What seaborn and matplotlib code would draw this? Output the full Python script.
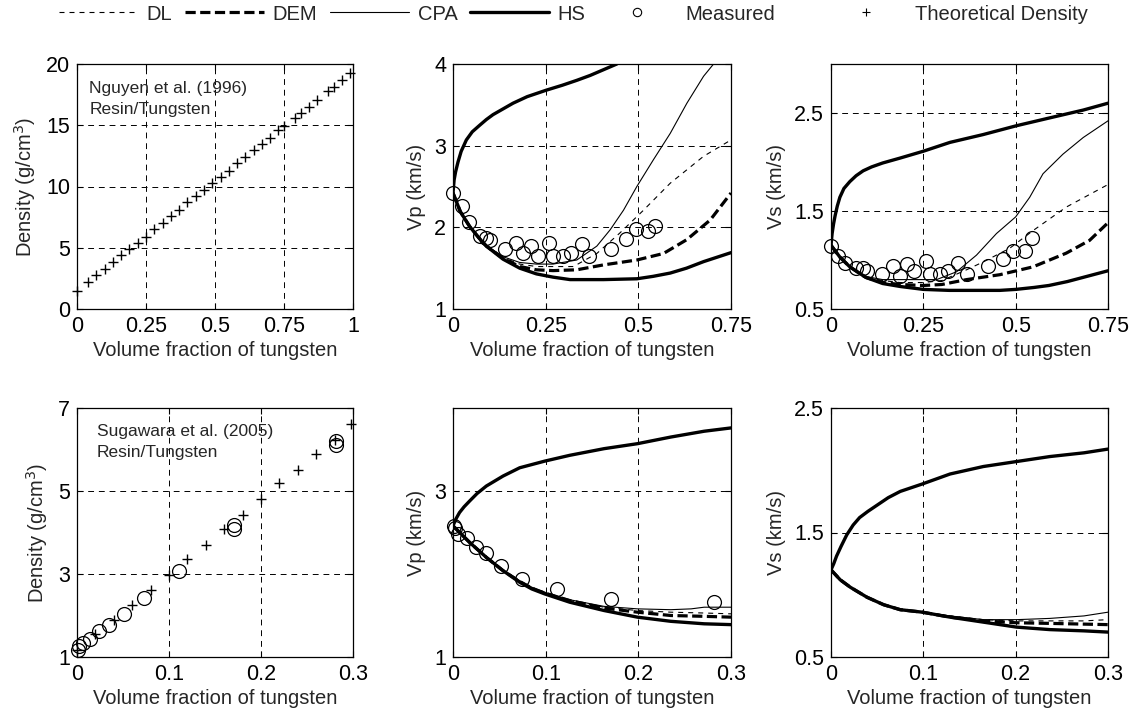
import matplotlib
matplotlib.use("Agg")
import matplotlib.pyplot as plt
import seaborn as sns
from matplotlib.lines import Line2D

sns.set_style("ticks")
plt.rcParams['font.family'] = ['Liberation Sans', 'DejaVu Sans']

# ---------------- data ----------------
# Top-left: Nguyen et al. (1996) theoretical density
td1_x = [0.00, 0.04, 0.07, 0.10, 0.13, 0.16, 0.19, 0.22, 0.25, 0.28, 0.31, 0.34, 0.37, 0.40, 0.43,
         0.46, 0.49, 0.52, 0.55, 0.58, 0.61, 0.64, 0.67, 0.70, 0.73, 0.75, 0.79, 0.81, 0.84, 0.87,
         0.91, 0.93, 0.96, 0.99]
td1_y = [1.5, 2.2, 2.8, 3.3, 3.8, 4.4, 4.9, 5.4, 5.9, 6.5, 7.0, 7.6, 8.1, 8.7, 9.2,
         9.7, 10.3, 10.8, 11.3, 11.9, 12.4, 13.0, 13.5, 14.0, 14.6, 14.9, 15.6, 16.0, 16.5, 17.1,
         17.8, 18.1, 18.7, 19.3]

# Top-middle: Vp (Nguyen)
vp1_hs_up_x = [0.0, 0.003, 0.007, 0.0135, 0.022, 0.036, 0.052, 0.072, 0.09, 0.108, 0.135, 0.162,
               0.2, 0.252, 0.295, 0.334, 0.37, 0.406, 0.442]
vp1_hs_up_y = [2.42, 2.58, 2.68, 2.80, 2.93, 3.07, 3.17, 3.25, 3.32, 3.38, 3.45, 3.52,
               3.60, 3.68, 3.74, 3.80, 3.86, 3.93, 4.00]
vp1_hs_lo_x = [0.0, 0.02, 0.045, 0.07, 0.09, 0.135, 0.18, 0.225, 0.27, 0.316, 0.406, 0.496, 0.54,
               0.586, 0.63, 0.676, 0.75]
vp1_hs_lo_y = [2.42, 2.19, 2.01, 1.87, 1.77, 1.61, 1.50, 1.43, 1.39, 1.36, 1.36, 1.37, 1.40,
               1.44, 1.50, 1.58, 1.69]
vp1_dem_x = [0.0, 0.02, 0.045, 0.07, 0.09, 0.135, 0.18, 0.225, 0.27, 0.334, 0.406, 0.496, 0.568,
             0.631, 0.694, 0.75]
vp1_dem_y = [2.42, 2.19, 2.01, 1.87, 1.77, 1.62, 1.52, 1.48, 1.47, 1.48, 1.54, 1.60, 1.68,
             1.85, 2.09, 2.42]
vp1_cpa_x = [0.0, 0.02, 0.045, 0.07, 0.09, 0.135, 0.18, 0.225, 0.27, 0.334, 0.388, 0.424, 0.46,
             0.496, 0.541, 0.586, 0.631, 0.676, 0.703]
vp1_cpa_y = [2.42, 2.19, 2.01, 1.88, 1.78, 1.64, 1.57, 1.55, 1.55, 1.60, 1.77, 1.97, 2.21,
             2.50, 2.83, 3.15, 3.52, 3.85, 4.00]
vp1_dl_x = [0.0, 0.02, 0.045, 0.07, 0.09, 0.135, 0.18, 0.225, 0.27, 0.325, 0.388, 0.45, 0.514,
            0.586, 0.676, 0.75]
vp1_dl_y = [2.42, 2.19, 2.01, 1.88, 1.78, 1.63, 1.55, 1.52, 1.52, 1.52, 1.68, 1.93, 2.21,
            2.54, 2.87, 3.07]
vp1_meas_x = [0.0, 0.024, 0.042, 0.072, 0.09, 0.10, 0.14, 0.169, 0.19, 0.21, 0.228, 0.259, 0.269,
              0.298, 0.318, 0.347, 0.367, 0.427, 0.466, 0.495, 0.525, 0.546]
vp1_meas_y = [2.42, 2.26, 2.06, 1.90, 1.87, 1.84, 1.73, 1.81, 1.68, 1.77, 1.65, 1.81, 1.65,
              1.65, 1.68, 1.79, 1.65, 1.74, 1.86, 1.98, 1.95, 2.02]

# Top-right: Vs (Nguyen)
vs1_hs_up_x = [0.0, 0.003, 0.007, 0.011, 0.017, 0.024, 0.035, 0.051, 0.068, 0.087, 0.11, 0.14,
               0.187, 0.25, 0.322, 0.412, 0.502, 0.592, 0.683, 0.75]
vs1_hs_up_y = [1.15, 1.27, 1.37, 1.45, 1.55, 1.64, 1.73, 1.80, 1.86, 1.91, 1.95, 1.99,
               2.04, 2.11, 2.20, 2.28, 2.37, 2.45, 2.53, 2.60]
vs1_hs_lo_x = [0.0, 0.012, 0.024, 0.051, 0.075, 0.096, 0.14, 0.187, 0.25, 0.32, 0.457, 0.50,
               0.55, 0.59, 0.64, 0.68, 0.75]
vs1_hs_lo_y = [1.15, 1.09, 1.03, 0.93, 0.87, 0.82, 0.76, 0.73, 0.70, 0.69, 0.69, 0.70,
               0.72, 0.74, 0.78, 0.82, 0.89]
vs1_dem_x = [0.0, 0.012, 0.024, 0.051, 0.075, 0.096, 0.14, 0.187, 0.25, 0.30, 0.367, 0.457,
             0.547, 0.637, 0.70, 0.75]
vs1_dem_y = [1.15, 1.09, 1.03, 0.93, 0.87, 0.82, 0.77, 0.75, 0.74, 0.75, 0.80, 0.85,
             0.93, 1.07, 1.20, 1.38]
vs1_cpa_x = [0.0, 0.012, 0.024, 0.051, 0.075, 0.096, 0.14, 0.187, 0.232, 0.286, 0.34, 0.394,
             0.448, 0.50, 0.538, 0.574, 0.628, 0.683, 0.75]
vs1_cpa_y = [1.15, 1.09, 1.03, 0.93, 0.87, 0.83, 0.80, 0.80, 0.80, 0.80, 0.88, 1.05,
             1.27, 1.44, 1.64, 1.88, 2.08, 2.25, 2.42]
vs1_dl_x = [0.0, 0.012, 0.024, 0.051, 0.075, 0.096, 0.14, 0.187, 0.25, 0.30, 0.367, 0.412,
            0.484, 0.547, 0.637, 0.75]
vs1_dl_y = [1.15, 1.09, 1.03, 0.93, 0.87, 0.83, 0.79, 0.77, 0.77, 0.79, 0.90, 0.98,
            1.12, 1.30, 1.54, 1.77]
vs1_meas_x = [0.0, 0.018, 0.038, 0.069, 0.087, 0.098, 0.137, 0.167, 0.188, 0.207, 0.226, 0.257, 0.268,
              0.295, 0.316, 0.344, 0.367, 0.426, 0.466, 0.493, 0.526, 0.545]
vs1_meas_y = [1.14, 1.04, 0.97, 0.92, 0.92, 0.89, 0.86, 0.94, 0.84, 0.96, 0.89, 0.99, 0.86,
              0.86, 0.89, 0.97, 0.86, 0.94, 1.01, 1.09, 1.09, 1.22]

# Bottom-left: Sugawara et al. (2005) density
td2_x = [0.00, 0.02, 0.04, 0.06, 0.08, 0.10, 0.12, 0.14, 0.16, 0.18, 0.20, 0.22, 0.24, 0.26, 0.28, 0.298]
td2_y = [1.18, 1.55, 1.90, 2.26, 2.61, 2.97, 3.36, 3.70, 4.08, 4.42, 4.80, 5.19, 5.51, 5.90, 6.23, 6.62]
d2_meas_x = [0.001, 0.0025, 0.0065, 0.0137, 0.024, 0.035, 0.051, 0.073, 0.111, 0.171, 0.171, 0.282, 0.282]
d2_meas_y = [1.18, 1.26, 1.34, 1.44, 1.63, 1.76, 2.03, 2.43, 3.07, 4.08, 4.18, 6.21, 6.11]

# Bottom-middle: Vp (Sugawara)
vp2_hs_up_x = [0.0, 0.003, 0.007, 0.012, 0.018, 0.026, 0.036, 0.054, 0.072, 0.099, 0.126, 0.163,
               0.199, 0.235, 0.271, 0.30]
vp2_hs_up_y = [2.58, 2.66, 2.74, 2.81, 2.88, 2.97, 3.06, 3.18, 3.28, 3.36, 3.43, 3.51,
               3.57, 3.65, 3.72, 3.76]
vp2_hs_lo_x = [0.0, 0.009, 0.018, 0.027, 0.036, 0.054, 0.072, 0.085, 0.099, 0.126, 0.163, 0.199,
               0.235, 0.271, 0.30]
vp2_hs_lo_y = [2.58, 2.48, 2.38, 2.29, 2.20, 2.04, 1.90, 1.82, 1.76, 1.66, 1.56, 1.48,
               1.43, 1.40, 1.39]
vp2_dem_x = [0.0, 0.009, 0.018, 0.027, 0.036, 0.054, 0.072, 0.085, 0.099, 0.126, 0.163, 0.199,
             0.235, 0.271, 0.30]
vp2_dem_y = [2.58, 2.48, 2.38, 2.29, 2.20, 2.04, 1.91, 1.83, 1.77, 1.68, 1.59, 1.54,
             1.50, 1.49, 1.48]
vp2_cpa_x = [0.0, 0.009, 0.018, 0.027, 0.036, 0.054, 0.072, 0.085, 0.099, 0.126, 0.163, 0.199,
             0.235, 0.257, 0.271, 0.30]
vp2_cpa_y = [2.58, 2.48, 2.38, 2.29, 2.20, 2.05, 1.92, 1.84, 1.78, 1.69, 1.61, 1.58,
             1.57, 1.58, 1.60, 1.60]
vp2_dl_x = [0.0, 0.009, 0.018, 0.027, 0.036, 0.054, 0.072, 0.085, 0.099, 0.126, 0.163, 0.199,
            0.235, 0.271, 0.30]
vp2_dl_y = [2.58, 2.48, 2.38, 2.29, 2.20, 2.05, 1.91, 1.84, 1.78, 1.68, 1.60, 1.56,
            1.54, 1.53, 1.52]
vp2_meas_x = [0.0007, 0.0025, 0.0054, 0.015, 0.025, 0.036, 0.052, 0.074, 0.112, 0.171, 0.282]
vp2_meas_y = [2.58, 2.56, 2.48, 2.43, 2.33, 2.25, 2.10, 1.94, 1.82, 1.70, 1.66]

# Bottom-right: Vs (Sugawara)
vs2_hs_up_x = [0.0, 0.003, 0.006, 0.011, 0.017, 0.024, 0.031, 0.04, 0.05, 0.062, 0.075, 0.099,
               0.129, 0.165, 0.201, 0.237, 0.274, 0.30]
vs2_hs_up_y = [1.20, 1.25, 1.31, 1.39, 1.48, 1.56, 1.62, 1.67, 1.72, 1.78, 1.83, 1.89,
               1.97, 2.03, 2.07, 2.11, 2.14, 2.17]
vs2_hs_lo_x = [0.0, 0.01, 0.021, 0.03, 0.039, 0.057, 0.075, 0.099, 0.129, 0.165, 0.201, 0.237,
               0.274, 0.30]
vs2_hs_lo_y = [1.20, 1.12, 1.06, 1.02, 0.98, 0.92, 0.88, 0.86, 0.82, 0.78, 0.74, 0.72,
               0.71, 0.70]
vs2_dem_x = [0.0, 0.01, 0.021, 0.03, 0.039, 0.057, 0.075, 0.099, 0.129, 0.165, 0.201, 0.237, 0.30]
vs2_dem_y = [1.20, 1.12, 1.06, 1.02, 0.98, 0.92, 0.88, 0.86, 0.82, 0.79, 0.775, 0.77, 0.76]
vs2_cpa_x = [0.0, 0.01, 0.021, 0.03, 0.039, 0.057, 0.075, 0.099, 0.129, 0.165, 0.201, 0.237,
             0.274, 0.30]
vs2_cpa_y = [1.20, 1.12, 1.06, 1.02, 0.98, 0.92, 0.88, 0.86, 0.83, 0.80, 0.80, 0.81,
             0.83, 0.86]
vs2_dl_x = [0.0, 0.01, 0.021, 0.03, 0.039, 0.057, 0.075, 0.099, 0.129, 0.165, 0.201, 0.237,
            0.274, 0.30]
vs2_dl_y = [1.20, 1.12, 1.06, 1.02, 0.98, 0.92, 0.88, 0.86, 0.83, 0.80, 0.79, 0.79,
            0.79, 0.80]

xlabel_text = "Volume fraction of tungsten"
legend_labels = ["DL", "DEM", "CPA", "HS", "Measured", "Theoretical Density"]

# ---------------- styles ----------------
TICK_FS = 15.5
LAB_FS = 14.5
DL_STYLE = dict(color='k', lw=0.8, linestyle=(0, (4.5, 4.5)))
DEM_STYLE = dict(color='k', lw=2.3, linestyle=(0, (3.2, 1.4)))
CPA_STYLE = dict(color='k', lw=0.8, linestyle='-')
HS_STYLE = dict(color='k', lw=2.4, linestyle='-')
MEAS_STYLE = dict(marker='o', linestyle='', markersize=10, markerfacecolor='none',
                  markeredgecolor='k', markeredgewidth=0.9, color='k', clip_on=False)
TD_STYLE = dict(marker='+', linestyle='', markersize=7, markeredgewidth=1.0,
                markeredgecolor='k', color='k', clip_on=False)

fig = plt.figure(figsize=(11.38, 7.13), dpi=100)
W, H = 1138.0, 713.0
lefts = [77, 453, 831]
rights = [353, 731, 1108]
tops = [64, 408]
bottoms = [309, 657]
axes = [[None] * 3 for _ in range(2)]
for r in range(2):
    for c in range(3):
        axes[r][c] = fig.add_axes([lefts[c] / W, 1 - bottoms[r] / H,
                                   (rights[c] - lefts[c]) / W, (bottoms[r] - tops[r]) / H])


def line(ax, x, y, style):
    sns.lineplot(x=x, y=y, ax=ax, estimator=None, sort=False, legend=False, **style)


def pts(ax, x, y, style):
    sns.lineplot(x=x, y=y, ax=ax, estimator=None, sort=False, legend=False, **style)


def models(ax, hs_up, hs_lo, dem, cpa, dl):
    line(ax, *dl, DL_STYLE)
    line(ax, *cpa, CPA_STYLE)
    line(ax, *dem, DEM_STYLE)
    line(ax, *hs_lo, HS_STYLE)
    line(ax, *hs_up, HS_STYLE)


def style_ax(ax, xlim, xticks, xtl, ylim, yticks, ytl, ylabel):
    ax.set_xlim(*xlim)
    ax.set_ylim(*ylim)
    ax.set_xticks(xticks)
    ax.set_xticklabels(xtl)
    ax.set_yticks(yticks)
    ax.set_yticklabels(ytl)
    ax.tick_params(direction='in', top=True, right=True, length=4, width=0.8,
                   labelsize=TICK_FS, pad=5, colors='k')
    ax.grid(True, linestyle=(0, (6, 5)), color='k', lw=0.7)
    for s in ax.spines.values():
        s.set_linewidth(0.9)
        s.set_color('k')
    ax.set_xlabel(xlabel_text, fontsize=LAB_FS, labelpad=3)
    ax.set_ylabel(ylabel, fontsize=LAB_FS, labelpad=6)


# Top-left
ax = axes[0][0]
pts(ax, td1_x, td1_y, TD_STYLE)
style_ax(ax, (0, 1), [0, 0.25, 0.5, 0.75, 1], ["0", "0.25", "0.5", "0.75", "1"],
         (0, 20), [0, 5, 10, 15, 20], ["0", "5", "10", "15", "20"], "Density (g/cm$^3$)")
ax.text(0.045, 0.90, "Nguyen et al. (1996)", transform=ax.transAxes, fontsize=12.5, va='center')
ax.text(0.045, 0.815, "Resin/Tungsten", transform=ax.transAxes, fontsize=12.5, va='center')

# Top-middle
ax = axes[0][1]
models(ax, (vp1_hs_up_x, vp1_hs_up_y), (vp1_hs_lo_x, vp1_hs_lo_y), (vp1_dem_x, vp1_dem_y),
       (vp1_cpa_x, vp1_cpa_y), (vp1_dl_x, vp1_dl_y))
pts(ax, vp1_meas_x, vp1_meas_y, MEAS_STYLE)
style_ax(ax, (0, 0.75), [0, 0.25, 0.5, 0.75], ["0", "0.25", "0.5", "0.75"],
         (1, 4), [1, 2, 3, 4], ["1", "2", "3", "4"], "Vp (km/s)")

# Top-right
ax = axes[0][2]
models(ax, (vs1_hs_up_x, vs1_hs_up_y), (vs1_hs_lo_x, vs1_hs_lo_y), (vs1_dem_x, vs1_dem_y),
       (vs1_cpa_x, vs1_cpa_y), (vs1_dl_x, vs1_dl_y))
pts(ax, vs1_meas_x, vs1_meas_y, MEAS_STYLE)
style_ax(ax, (0, 0.75), [0, 0.25, 0.5, 0.75], ["0", "0.25", "0.5", "0.75"],
         (0.5, 3.0), [0.5, 1.5, 2.5], ["0.5", "1.5", "2.5"], "Vs (km/s)")

# Bottom-left
ax = axes[1][0]
pts(ax, td2_x, td2_y, TD_STYLE)
pts(ax, d2_meas_x, d2_meas_y, MEAS_STYLE)
style_ax(ax, (0, 0.3), [0, 0.1, 0.2, 0.3], ["0", "0.1", "0.2", "0.3"],
         (1, 7), [1, 3, 5, 7], ["1", "3", "5", "7"], "Density (g/cm$^3$)")
ax.text(0.072, 0.905, "Sugawara et al. (2005)", transform=ax.transAxes, fontsize=12.5, va='center')
ax.text(0.072, 0.82, "Resin/Tungsten", transform=ax.transAxes, fontsize=12.5, va='center')

# Bottom-middle
ax = axes[1][1]
models(ax, (vp2_hs_up_x, vp2_hs_up_y), (vp2_hs_lo_x, vp2_hs_lo_y), (vp2_dem_x, vp2_dem_y),
       (vp2_cpa_x, vp2_cpa_y), (vp2_dl_x, vp2_dl_y))
pts(ax, vp2_meas_x, vp2_meas_y, MEAS_STYLE)
style_ax(ax, (0, 0.3), [0, 0.1, 0.2, 0.3], ["0", "0.1", "0.2", "0.3"],
         (1, 4), [1, 3], ["1", "3"], "Vp (km/s)")

# Bottom-right
ax = axes[1][2]
models(ax, (vs2_hs_up_x, vs2_hs_up_y), (vs2_hs_lo_x, vs2_hs_lo_y), (vs2_dem_x, vs2_dem_y),
       (vs2_cpa_x, vs2_cpa_y), (vs2_dl_x, vs2_dl_y))
style_ax(ax, (0, 0.3), [0, 0.1, 0.2, 0.3], ["0", "0.1", "0.2", "0.3"],
         (0.5, 2.5), [0.5, 1.5, 2.5], ["0.5", "1.5", "2.5"], "Vs (km/s)")

# Legend: one entry per legend, placed along the top
handles = [
    Line2D([], [], **DL_STYLE),
    Line2D([], [], **DEM_STYLE),
    Line2D([], [], **CPA_STYLE),
    Line2D([], [], **HS_STYLE),
    Line2D([], [], marker='o', linestyle='', markersize=6, markerfacecolor='none',
           markeredgecolor='k', markeredgewidth=0.8, color='k'),
    Line2D([], [], marker='+', linestyle='', markersize=6, markeredgewidth=0.8,
           markeredgecolor='k', color='k'),
]
starts = [59, 185, 330, 470, 598, 827]
for h, lab, x0 in zip(handles, legend_labels, starts):
    fig.legend([h], [lab], loc='center left', bbox_to_anchor=(x0 / W, 1 - 14 / H),
               frameon=False, fontsize=14.5, handlelength=3.9, handletextpad=0.45,
               borderpad=0, borderaxespad=0)

fig.savefig("out.png", dpi=100)
